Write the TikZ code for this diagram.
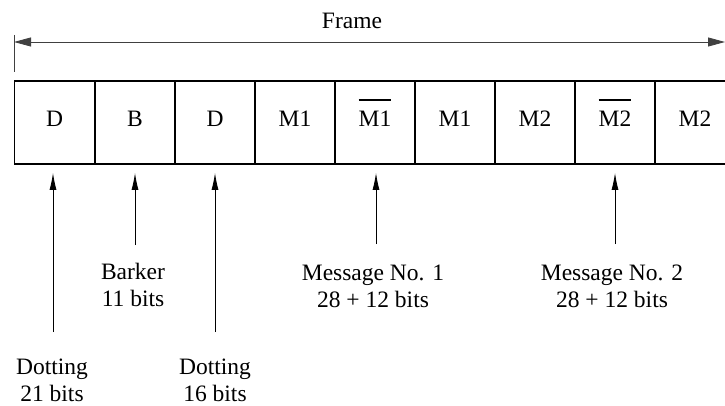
\documentclass[tikz,border=0pt]{standalone}
\usepackage{fontspec}
\setmainfont{Liberation Serif}
\usetikzlibrary{arrows.meta}
\newcommand\barred[1]{\vbox{\hrule height 1.8pt\vskip 10.5pt\hbox{#1}}}
\begin{document}
\begin{tikzpicture}[x=1pt,y=-1pt,
  every node/.style={font=\fontsize{23.5}{27}\selectfont, inner sep=0pt},
  cell/.style={draw, line width=1.4pt, minimum width=80pt, minimum height=83pt,
    text height=16pt, text depth=7pt},
  lbl/.style={align=center, anchor=base},
  up/.style={line width=0.8pt, -{Latex[length=17pt,width=7pt]}},
  span/.style={line width=0.8pt, draw=black!75, {Triangle[length=17pt,width=9pt]}-{Triangle[length=17pt,width=9pt]}}]
\useasboundingbox (0,0) rectangle (725,406);
\clip (0,0) rectangle (725,406);
\node[anchor=base] (frame) at (352,28.5) {Frame};
\coordinate (tickT) at (14,35);
\coordinate (tickB) at (14,72);
\coordinate (fl) at (14,42);
\coordinate (fr) at (725,42);
\draw[line width=0.8pt, draw=black!75] (tickT) -- (tickB);
\draw[span] (fl) -- (fr);
\node[cell] (b1) at (54.5,122.5) {D};
\node[cell] (b2) at (135,122.5) {B};
\node[cell] (b3) at (215,122.5) {D};
\node[cell] (b4) at (295,122.5) {M1};
\node[cell] (b5) at (375,122.5) {\barred{M1}};
\node[cell] (b6) at (455,122.5) {M1};
\node[cell] (b7) at (535,122.5) {M2};
\node[cell] (b8) at (615,122.5) {\barred{M2}};
\node[cell] (b9) at (695,122.5) {M2};
\coordinate (s1) at (53,332);
\coordinate (s2) at (135,245);
\coordinate (s3) at (215,332);
\coordinate (s5) at (376,244);
\coordinate (s8) at (615,244);
\draw[up] (s1) -- (s1 |- 0,173);
\draw[up] (s2) -- (s2 |- 0,173);
\draw[up] (s3) -- (s3 |- 0,173);
\draw[up] (s5) -- (s5 |- 0,173);
\draw[up] (s8) -- (s8 |- 0,173);
\node[lbl] (l1) at (52,401) {Dotting\\21 bits};
\node[lbl] (l2) at (133,306) {Barker\\11 bits};
\node[lbl] (l3) at (215,401) {Dotting\\16 bits};
\node[lbl] (l5) at (373,307) {Message No. 1\\28 + 12 bits};
\node[lbl] (l8) at (612,307) {Message No. 2\\28 + 12 bits};
\end{tikzpicture}
\end{document}
